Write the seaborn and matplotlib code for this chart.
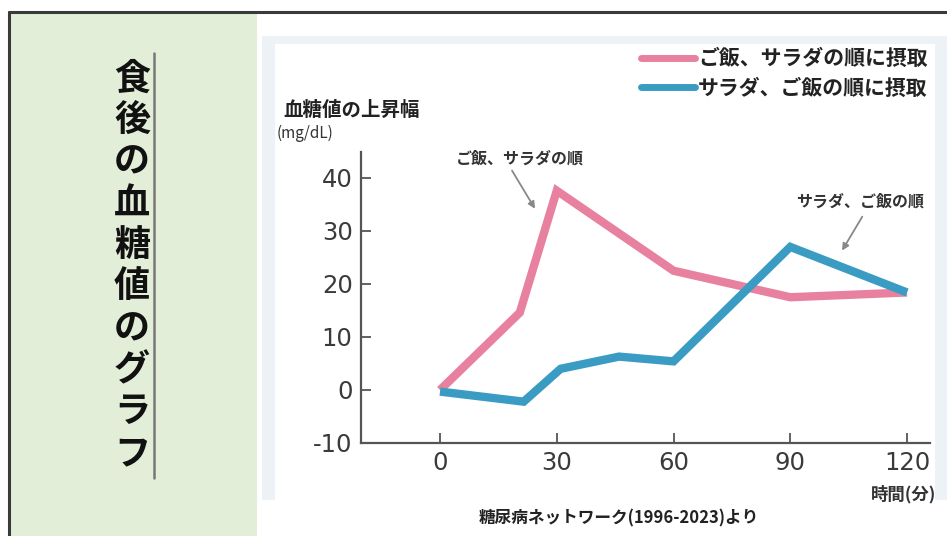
import numpy as np
import pandas as pd
import matplotlib
matplotlib.use("Agg")
import matplotlib.pyplot as plt
from matplotlib.patches import Rectangle
from matplotlib.lines import Line2D
import seaborn as sns

# --- data -------------------------------------------------------------
series_names = ["ご飯、サラダの順に摂取", "サラダ、ご飯の順に摂取"]
rice_first_time = [0, 20.5, 30, 60, 90, 120]
rice_first_rise = [0, 14.6, 37.6, 22.5, 17.5, 18.4]
salad_first_time = [0, 21.5, 31, 46, 60, 90, 120]
salad_first_rise = [-0.3, -2.2, 4.0, 6.3, 5.4, 27.0, 18.4]

x_ticks = [0, 30, 60, 90, 120]
y_ticks = [-10, 0, 10, 20, 30, 40]

title_text = "食後の血糖値のグラフ"
y_title = "血糖値の上昇幅"
y_unit = "(mg/dL)"
x_title = "時間(分)"
source_text = "糖尿病ネットワーク(1996-2023)より"
note_rice = "ご飯、サラダの順"
note_salad = "サラダ、ご飯の順"

PINK = "#e8819f"
BLUE = "#3b9cc3"
INK = "#3a3a3a"

df = pd.concat([
    pd.DataFrame({"time": rice_first_time, "rise": rice_first_rise, "order": series_names[0]}),
    pd.DataFrame({"time": salad_first_time, "rise": salad_first_rise, "order": series_names[1]}),
])

# --- figure -----------------------------------------------------------
sns.set_theme(style="white")
plt.rcParams["font.family"] = ["Noto Sans CJK JP", "DejaVu Sans"]
plt.rcParams["axes.unicode_minus"] = False

W, H = 947, 536
fig = plt.figure(figsize=(W / 100, H / 100), dpi=100)
fig.patch.set_facecolor("white")


def fx(x):
    return x / W


def fy(y):
    return 1 - y / H


def box(x0, y0, x1, y1, **kw):
    fig.patches.append(Rectangle((fx(x0), fy(y1)), fx(x1) - fx(x0), (y1 - y0) / H,
                                 transform=fig.transFigure, **kw))


# panels and frame (behind the axes)
box(10, 12, 257, 536, facecolor="#e3eed9", edgecolor="none", zorder=-3)
box(262, 36, 947, 500, facecolor="#edf2f7", edgecolor="none", zorder=-3)
box(275, 44, 935, 500, facecolor="white", edgecolor="none", zorder=-2)
fig.lines.append(Line2D([fx(9), 1], [fy(12), fy(12)], transform=fig.transFigure,
                        color="#3a3a3a", lw=2.2, zorder=5))
fig.lines.append(Line2D([fx(9), fx(9)], [fy(12), 0], transform=fig.transFigure,
                        color="#3a3a3a", lw=2.2, zorder=5))

# vertical title
for i, ch in enumerate(title_text):
    fig.text(fx(132), fy(79 + i * 41.6), ch, ha="center", va="center",
             fontsize=26, fontweight="bold", color="#111111", zorder=6)
fig.lines.append(Line2D([fx(154), fx(154)], [fy(53), fy(478)], transform=fig.transFigure,
                        color="#777777", lw=1.8, zorder=6))

# --- chart ------------------------------------------------------------
ax = fig.add_axes([fx(361), fy(443), (930 - 361) / W, (443 - 152) / H])
ax.set_facecolor("none")
sns.lineplot(data=df, x="time", y="rise", hue="order", palette=[PINK, BLUE],
             linewidth=6, sort=False, ax=ax, legend=False,
             solid_joinstyle="miter", solid_capstyle="butt")

ax.set_xlim(-20.3, 125.9)
ax.set_ylim(-10, 44.9)
ax.set_xticks(x_ticks)
ax.set_yticks(y_ticks)
ax.set_xlabel("")
ax.set_ylabel("")
for s in ["top", "right"]:
    ax.spines[s].set_visible(False)
for s in ["left", "bottom"]:
    ax.spines[s].set_color("#555555")
    ax.spines[s].set_linewidth(1.6)
ax.tick_params(axis="both", direction="in", length=7, width=1.3, color="#555555",
               labelsize=17.5, labelcolor=INK, left=True, bottom=True)
ax.tick_params(axis="y", pad=6)
ax.tick_params(axis="x", pad=6)
for lbl in ax.get_xticklabels() + ax.get_yticklabels():
    lbl.set_fontfamily("DejaVu Sans")

# callout labels and their arrows
ax.text(20.6, 43.7, note_rice, ha="center", va="center", fontsize=11.5,
        fontweight="bold", color="#333333", clip_on=False)
ax.text(108.0, 35.6, note_salad, ha="center", va="center", fontsize=11.5,
        fontweight="bold", color="#333333", clip_on=False)
arrow = dict(arrowstyle="-|>", color="#888888", lw=1.3, mutation_scale=10,
             shrinkA=0, shrinkB=0)
ax.annotate("", xy=(24.4, 34.2), xytext=(18.5, 41.4), arrowprops=arrow,
            annotation_clip=False)
ax.annotate("", xy=(103.3, 26.3), xytext=(108.5, 32.7), arrowprops=arrow,
            annotation_clip=False)

# legend
handles = [Line2D([], [], color=PINK, lw=5), Line2D([], [], color=BLUE, lw=5)]
leg = fig.legend(handles, series_names, loc="upper right",
                 bbox_to_anchor=(fx(936), fy(40)), frameon=False,
                 prop={"size": 15, "weight": "bold"}, handlelength=2.6,
                 handletextpad=0.15, labelspacing=0.4, borderaxespad=0)
for t in leg.get_texts():
    t.set_color("#222222")

# axis titles and source
fig.text(fx(283), fy(110), y_title, ha="left", va="center", fontsize=14,
         fontweight="bold", color="#222222")
fig.text(fx(277), fy(133), y_unit, ha="left", va="center", fontsize=11, color="#333333")
fig.text(fx(936), fy(494), x_title, ha="right", va="center", fontsize=12.5,
         fontweight="bold", color="#333333")
fig.text(fx(619), fy(518), source_text, ha="center", va="center", fontsize=12,
         fontweight="bold", color="#222222")

fig.savefig("out.png", dpi=100, facecolor="white")
